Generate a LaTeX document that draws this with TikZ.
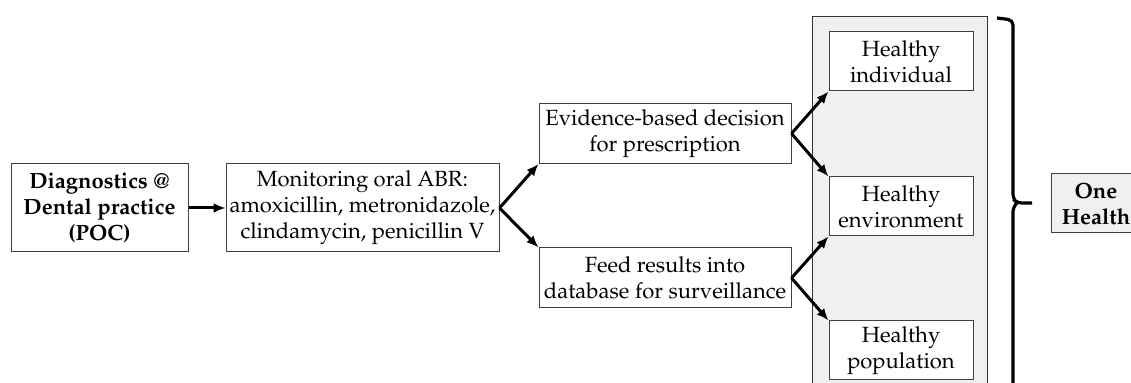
\documentclass[tikz,border=0pt]{standalone}
\usepackage[T1]{fontenc}
\usepackage{mathpazo}
\usetikzlibrary{arrows.meta}
\begin{document}
\begin{tikzpicture}[x=0.5pt,y=-0.5pt,
  box/.style={draw=black!75, line width=0.5pt, fill=white, align=center, inner sep=0pt,
    font=\fontsize{11}{13}\selectfont},
  flow/.style={-{Latex[length=6pt,width=5pt]}, line width=1.5pt}]
\clip (0,0) rectangle (1131,383);
% panel and brace
\node[draw=black!80, line width=0.5pt, fill=black!6, minimum width=87.5pt, minimum height=191.5pt] (panel) at (899.5,208.5){};
\draw[line width=1.6pt, rounded corners=2.5pt] (997,18) -- (1013,20) -- (1013,199) -- (1017,203) -- (1032,203);
\draw[line width=1.6pt, rounded corners=2.5pt] (1017,203) -- (1013,207) -- (1013,400);
% boxes
\node[box, font=\fontsize{11}{13}\selectfont\bfseries, minimum width=88.5pt, minimum height=44pt] (diag) at (99.5,208){Diagnostics @\\ Dental practice\\ (POC)};
\node[box, minimum width=136.5pt, minimum height=44pt] (monit) at (362.5,208){Monitoring oral ABR:\\ amoxicillin, metronidazole,\\ clindamycin, penicillin V};
\node[box, minimum width=126pt, minimum height=30pt] (evid) at (665,133.5){Evidence-based decision\\ for prescription};
\node[box, minimum width=126pt, minimum height=30pt] (feed) at (665,278){Feed results into\\ database for surveillance};
\node[box, minimum width=72pt, minimum height=29.5pt] (indiv) at (901,61.5){Healthy\\ individual};
\node[box, minimum width=72pt, minimum height=29.5pt] (envir) at (901,206.5){Healthy\\ environment};
\node[box, minimum width=72pt, minimum height=29.5pt] (popul) at (901,350.5){Healthy\\ population};
\node[box, fill=black!6, font=\fontsize{11}{13}\selectfont\bfseries, minimum width=45pt, minimum height=29.5pt] (onehealth) at (1096,203.5){One\\ Health};
% arrows
\draw[flow] (diag) -- (monit);
\draw[flow] (monit.east) -- (evid.south west);
\draw[flow] (monit.east) -- (feed.north west);
\draw[flow] (evid.east) -- (indiv.south west);
\draw[flow] (evid.east) -- (envir.north west);
\draw[flow] (feed.east) -- (envir.south west);
\draw[flow] (feed.east) -- (popul.north west);
\end{tikzpicture}
\end{document}
